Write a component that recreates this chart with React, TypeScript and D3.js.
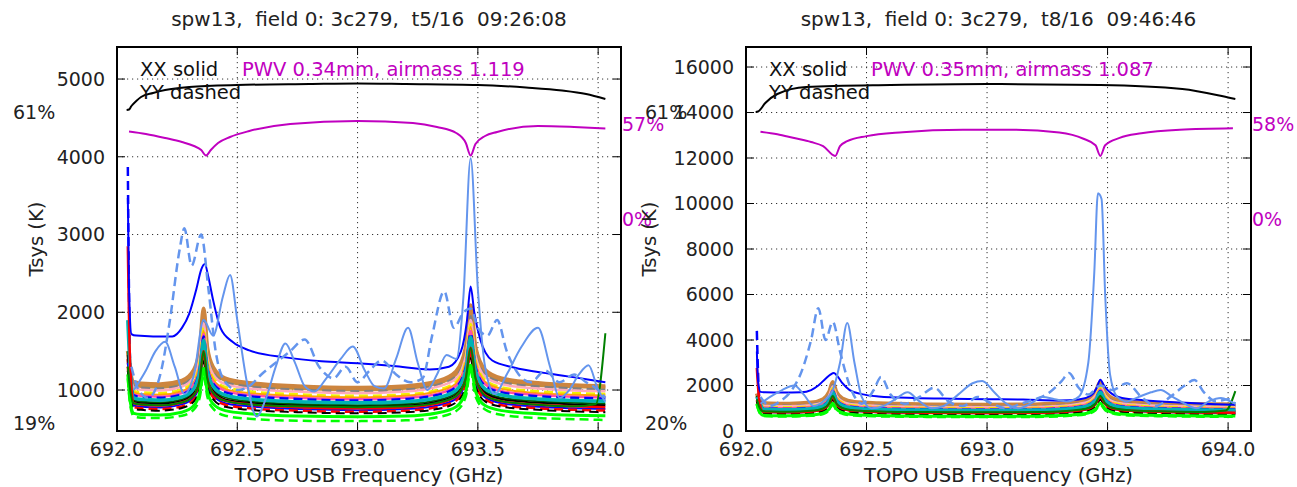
import React from 'react';
import * as d3 from 'd3';

// ---------- shared axes ----------
const X_DOMAIN: [number, number] = [692.0, 694.095];
const X_TICKS = [692.0, 692.5, 693.0, 693.5, 694.0];
const L_Y_DOMAIN: [number, number] = [473, 5412];
const L_Y_TICKS = [1000, 2000, 3000, 4000, 5000];
const R_Y_DOMAIN: [number, number] = [0, 16880];
const R_Y_TICKS = [0, 2000, 4000, 6000, 8000, 10000, 12000, 14000, 16000];

const L_TITLE = 'spw13,  field 0: 3c279,  t5/16  09:26:08';
const R_TITLE = 'spw13,  field 0: 3c279,  t8/16  09:46:46';
const L_PWV = 'PWV 0.34mm, airmass 1.119';
const R_PWV = 'PWV 0.35mm, airmass 1.087';

// ---------- atmosphere (percent) ----------
const L_TRANS_F = [692.04, 692.05, 692.06, 692.08, 692.1, 692.15, 692.2, 692.3, 692.5, 692.8, 693.0, 693.2, 693.5, 693.7, 693.85, 693.95, 694.03];
const L_TRANS_V = [61.34, 61.41, 61.88, 62.56, 63.1, 63.64, 64.04, 64.45, 64.72, 64.85, 64.92, 64.85, 64.72, 64.38, 63.98, 63.5, 62.83];
const L_TRANS_LABELS = [19, 61];
const R_TRANS_F = [692.04, 692.05, 692.08, 692.13, 692.25, 692.6, 693.0, 693.47, 693.81, 694.01, 694.03];
const R_TRANS_V = [61.07, 61.13, 62.25, 63.44, 64.37, 64.63, 64.76, 64.63, 64.1, 62.91, 62.78];
const R_TRANS_LABELS = [20, 61];

const L_IMG_F = [692.05, 692.12, 692.2, 692.27, 692.32, 692.35, 692.37, 692.39, 692.42, 692.47, 692.55, 692.72, 693.0, 693.23, 693.33, 693.41, 693.45, 693.47, 693.49, 693.53, 693.58, 693.75, 693.9, 694.03];
const L_IMG_V = [52.5, 51, 48.6, 46.2, 43.8, 41.4, 38.1, 41.4, 45.6, 49.2, 52.8, 57, 58.8, 57.6, 55.2, 51.6, 45.6, 38.1, 45, 49.8, 52.2, 55.8, 55.2, 54.3];
const L_IMG_LABELS = [0, 57];
const R_IMG_F = [692.06, 692.13, 692.2, 692.27, 692.32, 692.37, 692.39, 692.42, 692.5, 692.65, 692.9, 693.1, 693.3, 693.4, 693.45, 693.47, 693.49, 693.55, 693.64, 693.8, 694.02];
const R_IMG_V = [53.3, 51.8, 49.4, 47, 44.5, 38.5, 44.5, 47.5, 50.6, 53, 54.5, 54.5, 52.8, 49, 45, 38.5, 45, 49.5, 52.3, 54.5, 55.4];
const R_IMG_LABELS = [0, 58];

// ---------- Tsys bundle (shared frequency grid) ----------
const G_FREQ = [692.045, 692.055, 692.07, 692.1, 692.18, 692.27, 692.32, 692.345, 692.36, 692.375, 692.4, 692.45, 692.55, 692.75, 693.0, 693.2, 693.33, 693.41, 693.45, 693.47, 693.49, 693.53, 693.6, 693.75, 693.9, 694.03];
const RISER_FREQ = [692.045, 692.055, 692.07, 692.1, 692.18, 692.27, 692.32, 692.345, 692.36, 692.375, 692.4, 692.45, 692.55, 692.75, 693.0, 693.2, 693.33, 693.41, 693.45, 693.47, 693.49, 693.53, 693.6, 693.75, 693.9, 693.99, 694.03];

// left panel
const L_BROWN_A = [1500, 1240, 1100, 1085, 1075, 1120, 1260, 1550, 2050, 1550, 1290, 1150, 1090, 1050, 1030, 1050, 1110, 1240, 1550, 2090, 1550, 1260, 1150, 1090, 1060, 1050];
const L_BROWN_B = [1400, 1200, 1070, 1050, 1040, 1090, 1220, 1500, 1980, 1510, 1255, 1125, 1065, 1025, 1005, 1025, 1085, 1205, 1505, 2030, 1510, 1225, 1125, 1065, 1045, 1035];
const L_GRAY_D = [1300, 1180, 1050, 1030, 1020, 1070, 1200, 1470, 1900, 1470, 1230, 1100, 1045, 1005, 985, 1005, 1065, 1180, 1470, 1950, 1480, 1200, 1100, 1045, 1020, 1000];
const L_PINK = [1250, 1150, 1030, 1005, 995, 1045, 1170, 1440, 1860, 1440, 1200, 1075, 1020, 980, 960, 980, 1040, 1150, 1440, 1900, 1440, 1170, 1075, 1020, 995, 985];
const L_YELLOW_D = [1200, 1110, 990, 970, 960, 1010, 1130, 1390, 1800, 1390, 1160, 1040, 985, 945, 925, 945, 1000, 1110, 1390, 1850, 1390, 1130, 1035, 985, 960, 950];
const L_ORANGE = [1150, 1080, 970, 950, 940, 985, 1105, 1360, 1760, 1360, 1130, 1015, 960, 925, 905, 925, 980, 1085, 1360, 1810, 1360, 1105, 1015, 960, 940, 930];
const L_HOTPINK = [1400, 1050, 945, 925, 915, 960, 1075, 1320, 1720, 1320, 1100, 990, 935, 900, 880, 900, 950, 1055, 1320, 1760, 1320, 1075, 985, 935, 915, 905];
const L_BLUE_D = [3870, 1300, 930, 910, 900, 945, 1055, 1300, 1690, 1300, 1080, 970, 920, 885, 865, 885, 935, 1040, 1300, 1730, 1300, 1055, 970, 920, 900, 890];
const L_CYAN = [1900, 1250, 900, 880, 870, 910, 1020, 1260, 1640, 1260, 1045, 935, 885, 850, 835, 850, 900, 1000, 1250, 1680, 1250, 1015, 935, 885, 865, 855];
const L_DKGREEN = [1500, 1100, 870, 850, 840, 880, 985, 1210, 1580, 1215, 1010, 905, 855, 820, 805, 820, 870, 965, 1210, 1620, 1210, 980, 900, 855, 835, 825];
const L_BLACK = [1450, 1050, 850, 830, 820, 860, 960, 1180, 1540, 1185, 985, 880, 835, 800, 785, 800, 850, 940, 1180, 1580, 1180, 960, 880, 835, 815, 805];
const L_RED = [2850, 1300, 830, 810, 800, 840, 935, 1150, 1500, 1155, 960, 860, 815, 780, 765, 780, 825, 920, 1150, 1540, 1150, 935, 855, 810, 790, 780];
const L_BLUE = [1350, 1000, 800, 785, 775, 815, 905, 1110, 1450, 1115, 930, 830, 790, 755, 740, 755, 800, 890, 1110, 1490, 1110, 905, 830, 785, 765, 755];
const L_RED_D = [1300, 950, 780, 765, 755, 790, 880, 1080, 1410, 1085, 905, 810, 765, 735, 720, 735, 780, 865, 1080, 1450, 1080, 880, 805, 765, 745, 735];
const L_BLACK_D = [1250, 920, 760, 745, 735, 770, 855, 1050, 1370, 1055, 880, 785, 745, 715, 700, 715, 755, 840, 1050, 1410, 1050, 855, 785, 745, 725, 715];
const L_LIME = [1200, 850, 700, 685, 680, 715, 800, 985, 1280, 985, 820, 735, 695, 665, 655, 665, 705, 785, 985, 1320, 985, 800, 735, 695, 675, 670];
const L_LIME_D = [1150, 800, 660, 645, 640, 670, 750, 920, 1200, 920, 760, 670, 630, 605, 600, 610, 650, 730, 920, 1240, 920, 750, 680, 640, 625, 615];
const L_RISER = [1300, 1000, 830, 815, 805, 840, 935, 1150, 1500, 1150, 960, 860, 815, 790, 780, 790, 835, 925, 1150, 1540, 1150, 930, 855, 810, 790, 820, 1730];

const L_HIGH_F = [692.045, 692.05, 692.06, 692.08, 692.15, 692.23, 692.27, 692.3, 692.33, 692.35, 692.365, 692.38, 692.4, 692.43, 692.48, 692.55, 692.7, 692.85, 693.0, 693.15, 693.3, 693.38, 693.43, 693.455, 693.47, 693.485, 693.51, 693.56, 693.65, 693.8, 693.95, 694.03];
const L_HIGH_V = [3470, 2300, 1720, 1700, 1690, 1690, 1800, 1980, 2300, 2550, 2620, 2450, 2150, 1800, 1620, 1510, 1420, 1370, 1345, 1310, 1265, 1300, 1500, 1900, 2330, 2000, 1650, 1380, 1290, 1210, 1140, 1100];

const L_CORN_F = [692.07, 692.12, 692.16, 692.2, 692.24, 692.28, 692.32, 692.36, 692.4, 692.44, 692.47, 692.5, 692.54, 692.58, 692.62, 692.66, 692.7, 692.74, 692.78, 692.82, 692.87, 692.93, 692.98, 693.03, 693.07, 693.11, 693.16, 693.21, 693.25, 693.29, 693.33, 693.37, 693.41, 693.44, 693.47, 693.5, 693.53, 693.57, 693.62, 693.68, 693.75, 693.8, 693.84, 693.88, 693.92, 693.96, 694.0, 694.03];
const L_CORN_V = [1000, 1250, 1500, 1620, 1300, 950, 1200, 1900, 1700, 2200, 2480, 1900, 1100, 660, 900, 1300, 1600, 1350, 1050, 980, 1150, 1400, 1560, 1250, 1050, 1020, 1400, 1800, 1350, 1000, 1200, 1450, 1400, 2200, 3980, 2300, 1300, 950, 1200, 1550, 1800, 1300, 900, 1000, 1200, 1320, 1000, 850];
const L_CORN_D_F = [692.06, 692.09, 692.13, 692.18, 692.22, 692.26, 692.28, 692.31, 692.35, 692.38, 692.41, 692.45, 692.5, 692.55, 692.6, 692.66, 692.72, 692.78, 692.84, 692.9, 692.95, 693.0, 693.05, 693.1, 693.16, 693.22, 693.27, 693.31, 693.36, 693.4, 693.44, 693.47, 693.5, 693.54, 693.58, 693.62, 693.67, 693.72, 693.78, 693.84, 693.9, 693.95, 694.0, 694.03];
const L_CORN_D_V = [1300, 1000, 900, 1200, 1900, 2800, 3080, 2600, 3000, 2300, 1500, 1100, 1000, 1050, 1200, 1350, 1500, 1650, 1300, 1150, 1300, 1100, 1250, 1380, 1200, 1100, 1150, 1700, 2270, 1800, 2000, 2050, 1800, 1700, 1900, 1500, 1200, 1100, 1250, 1100, 1200, 1100, 1000, 900];

// right panel
const R_BROWN_A = [1650, 1380, 1230, 1210, 1200, 1250, 1400, 1720, 2150, 1720, 1430, 1280, 1220, 1170, 1150, 1170, 1240, 1380, 1720, 2150, 1720, 1400, 1280, 1210, 1180, 1170];
const R_BROWN_B = [1550, 1320, 1180, 1160, 1150, 1200, 1340, 1650, 2080, 1650, 1370, 1230, 1165, 1120, 1100, 1120, 1185, 1320, 1650, 2080, 1650, 1340, 1230, 1160, 1130, 1120];
const R_GRAY_D = [1400, 1280, 1150, 1125, 1115, 1165, 1300, 1600, 2020, 1600, 1330, 1195, 1135, 1090, 1070, 1090, 1155, 1285, 1600, 2020, 1600, 1300, 1195, 1130, 1100, 1090];
const R_PINK = [1350, 1250, 1115, 1095, 1085, 1135, 1265, 1560, 1960, 1560, 1295, 1160, 1100, 1060, 1040, 1060, 1120, 1250, 1560, 1960, 1560, 1265, 1160, 1100, 1070, 1060];
const R_YELLOW_D = [1300, 1200, 1075, 1050, 1040, 1090, 1220, 1500, 1890, 1500, 1250, 1120, 1060, 1020, 1000, 1020, 1080, 1200, 1500, 1890, 1500, 1220, 1120, 1060, 1030, 1020];
const R_ORANGE = [1250, 1170, 1045, 1025, 1015, 1065, 1190, 1460, 1840, 1460, 1215, 1090, 1030, 995, 975, 995, 1055, 1170, 1460, 1840, 1460, 1190, 1090, 1030, 1005, 995];
const R_HOTPINK = [1500, 1140, 1020, 1000, 990, 1035, 1160, 1420, 1800, 1420, 1185, 1065, 1005, 970, 950, 970, 1025, 1140, 1420, 1800, 1420, 1160, 1065, 1005, 980, 970];
const R_BLUE_D = [4400, 1500, 1000, 980, 970, 1015, 1135, 1390, 1760, 1390, 1160, 1040, 985, 950, 930, 950, 1005, 1115, 1390, 1760, 1390, 1135, 1040, 985, 960, 950];
const R_CYAN = [1500, 1300, 965, 945, 935, 980, 1095, 1345, 1700, 1345, 1120, 1005, 950, 920, 900, 920, 970, 1080, 1345, 1700, 1345, 1095, 1005, 950, 925, 915];
const R_DKGREEN = [1550, 1150, 925, 905, 895, 935, 1050, 1290, 1630, 1290, 1070, 960, 910, 875, 860, 875, 930, 1030, 1290, 1630, 1290, 1050, 960, 910, 885, 875];
const R_BLACK = [1500, 1100, 890, 870, 860, 905, 1015, 1245, 1570, 1245, 1035, 930, 880, 845, 830, 845, 895, 995, 1245, 1570, 1245, 1015, 930, 880, 855, 845];
const R_RED = [2770, 1350, 850, 830, 820, 860, 965, 1185, 1500, 1185, 985, 885, 835, 805, 790, 805, 850, 950, 1185, 1500, 1185, 965, 885, 835, 815, 805];
const R_BLUE = [1400, 1050, 840, 820, 810, 850, 950, 1170, 1480, 1170, 975, 875, 825, 795, 780, 795, 840, 935, 1170, 1480, 1170, 950, 875, 825, 800, 795];
const R_RED_D = [1350, 1000, 810, 790, 780, 820, 915, 1125, 1420, 1125, 940, 840, 795, 765, 750, 765, 810, 900, 1125, 1420, 1125, 915, 840, 795, 770, 765];
const R_BLACK_D = [1300, 960, 775, 760, 750, 785, 880, 1080, 1370, 1080, 900, 805, 765, 735, 720, 735, 775, 865, 1080, 1370, 1080, 880, 805, 765, 740, 735];
const R_LIME = [1200, 870, 690, 675, 665, 700, 785, 960, 1220, 960, 800, 715, 680, 650, 640, 650, 690, 770, 960, 1220, 960, 785, 715, 680, 660, 655];
const R_LIME_D = [1150, 830, 660, 645, 635, 670, 750, 915, 1160, 915, 760, 680, 645, 620, 610, 620, 660, 735, 915, 1160, 915, 750, 680, 645, 630, 625];
const R_RISER = [1400, 1050, 870, 855, 845, 885, 990, 1210, 1540, 1210, 1010, 905, 860, 830, 820, 830, 880, 975, 1210, 1540, 1210, 990, 905, 860, 840, 900, 1750];

const R_HIGH_V = [3500, 2200, 1720, 1700, 1690, 1700, 1800, 2000, 2300, 2480, 2550, 2400, 2100, 1800, 1620, 1520, 1450, 1420, 1400, 1380, 1340, 1380, 1550, 1900, 2250, 2000, 1700, 1450, 1350, 1250, 1180, 1150];

const R_CORN_F = [692.06, 692.1, 692.15, 692.2, 692.24, 692.28, 692.32, 692.36, 692.39, 692.42, 692.45, 692.48, 692.52, 692.57, 692.62, 692.67, 692.72, 692.77, 692.82, 692.88, 692.94, 692.98, 693.03, 693.08, 693.13, 693.18, 693.23, 693.28, 693.33, 693.38, 693.42, 693.445, 693.46, 693.475, 693.49, 693.51, 693.54, 693.58, 693.63, 693.68, 693.72, 693.77, 693.82, 693.87, 693.92, 693.97, 694.01, 694.03];
const R_CORN_V = [1200, 1500, 1800, 2000, 1600, 1100, 1300, 1800, 3000, 4750, 3000, 1500, 1000, 1100, 1400, 1700, 1300, 1000, 1100, 1600, 2100, 2200, 1700, 1200, 1000, 1200, 1500, 1400, 1300, 1500, 3000, 7000, 10450, 10200, 6000, 2500, 1500, 1300, 1500, 1700, 1800, 1500, 1200, 1000, 1300, 1450, 1300, 1200];
const R_CORN_D_F = [692.06, 692.1, 692.14, 692.19, 692.23, 692.27, 692.3, 692.33, 692.36, 692.39, 692.43, 692.48, 692.53, 692.56, 692.6, 692.66, 692.72, 692.78, 692.84, 692.9, 692.96, 693.02, 693.08, 693.14, 693.2, 693.26, 693.31, 693.34, 693.38, 693.42, 693.47, 693.52, 693.58, 693.64, 693.7, 693.76, 693.82, 693.86, 693.9, 693.95, 694.0, 694.03];
const R_CORN_D_V = [1500, 1100, 1300, 1800, 2600, 4000, 5400, 4000, 4800, 3500, 2000, 1200, 1800, 2370, 1600, 1200, 1500, 1900, 1300, 1100, 1500, 1200, 1000, 1200, 1400, 1700, 2200, 2550, 1900, 1600, 2000, 1800, 2100, 1500, 1100, 1500, 2000, 2240, 1700, 1300, 1400, 1200];

// ---------- series styles ----------
type Series = { f: number[]; v: number[]; color: string; width: number; dash?: string };
const DASH = '9,5';
const CORN = '#6495ed';

const LEFT_SERIES: Series[] = [
  { f: G_FREQ, v: L_BROWN_B, color: '#c58a3a', width: 3.5 },
  { f: G_FREQ, v: L_BROWN_A, color: '#cd853f', width: 4 },
  { f: G_FREQ, v: L_GRAY_D, color: '#808080', width: 2.5, dash: DASH },
  { f: G_FREQ, v: L_PINK, color: '#ffaabb', width: 2.5 },
  { f: G_FREQ, v: L_YELLOW_D, color: '#f0f000', width: 2.5, dash: DASH },
  { f: G_FREQ, v: L_ORANGE, color: '#ffa500', width: 2 },
  { f: G_FREQ, v: L_HOTPINK, color: '#ff4da6', width: 2.5 },
  { f: G_FREQ, v: L_BLUE_D, color: '#0000ff', width: 2.5, dash: DASH },
  { f: G_FREQ, v: L_DKGREEN, color: '#006400', width: 2 },
  { f: G_FREQ, v: L_BLACK, color: '#000000', width: 2 },
  { f: G_FREQ, v: L_BLUE, color: '#0000ff', width: 2 },
  { f: G_FREQ, v: L_RED_D, color: '#ff0000', width: 2.5, dash: DASH },
  { f: G_FREQ, v: L_BLACK_D, color: '#000000', width: 2, dash: DASH },
  { f: G_FREQ, v: L_CYAN, color: '#00b3b3', width: 3.5 },
  { f: G_FREQ, v: L_RED, color: '#ff0000', width: 2.5 },
  { f: G_FREQ, v: L_LIME_D, color: '#00ff00', width: 2.5, dash: DASH },
  { f: G_FREQ, v: L_LIME, color: '#00ff00', width: 3 },
  { f: RISER_FREQ, v: L_RISER, color: '#008000', width: 2 },
  { f: L_HIGH_F, v: L_HIGH_V, color: '#0000ff', width: 2 },
  { f: L_CORN_D_F, v: L_CORN_D_V, color: CORN, width: 2.5, dash: DASH },
  { f: L_CORN_F, v: L_CORN_V, color: CORN, width: 2 },
];

const RIGHT_SERIES: Series[] = [
  { f: G_FREQ, v: R_BROWN_B, color: '#c58a3a', width: 3.5 },
  { f: G_FREQ, v: R_BROWN_A, color: '#cd853f', width: 4 },
  { f: G_FREQ, v: R_GRAY_D, color: '#808080', width: 2.5, dash: DASH },
  { f: G_FREQ, v: R_PINK, color: '#ffaabb', width: 2.5 },
  { f: G_FREQ, v: R_YELLOW_D, color: '#f0f000', width: 2.5, dash: DASH },
  { f: G_FREQ, v: R_ORANGE, color: '#ffa500', width: 2 },
  { f: G_FREQ, v: R_HOTPINK, color: '#ff4da6', width: 2.5 },
  { f: G_FREQ, v: R_BLUE_D, color: '#0000ff', width: 2.5, dash: DASH },
  { f: G_FREQ, v: R_DKGREEN, color: '#006400', width: 2 },
  { f: G_FREQ, v: R_BLACK, color: '#000000', width: 2 },
  { f: G_FREQ, v: R_BLUE, color: '#0000ff', width: 2 },
  { f: G_FREQ, v: R_RED_D, color: '#ff0000', width: 2.5, dash: DASH },
  { f: G_FREQ, v: R_BLACK_D, color: '#000000', width: 2, dash: DASH },
  { f: G_FREQ, v: R_CYAN, color: '#00b3b3', width: 3.5 },
  { f: G_FREQ, v: R_RED, color: '#ff0000', width: 2.5 },
  { f: G_FREQ, v: R_LIME_D, color: '#00ff00', width: 2.5, dash: DASH },
  { f: G_FREQ, v: R_LIME, color: '#00ff00', width: 3 },
  { f: RISER_FREQ, v: R_RISER, color: '#008000', width: 2 },
  { f: L_HIGH_F, v: R_HIGH_V, color: '#0000ff', width: 2 },
  { f: R_CORN_D_F, v: R_CORN_D_V, color: CORN, width: 2.5, dash: DASH },
  { f: R_CORN_F, v: R_CORN_V, color: CORN, width: 2 },
];

const FONT = "'DejaVu Sans', 'Bitstream Vera Sans', sans-serif";
const MAG = '#c000c0';

type PanelProps = {
  id: string;
  box: { left: number; right: number; top: number; bottom: number };
  yDomain: [number, number];
  yTicks: number[];
  title: string;
  pwv: string;
  series: Series[];
  transF: number[]; transV: number[]; transLabels: number[]; transPix: [number, number];
  imgF: number[]; imgV: number[]; imgLabels: number[]; imgPix: [number, number];
  pctLeftX: number;
  ylabelX: number;
};

function Panel(p: PanelProps) {
  const { left, right, top, bottom } = p.box;
  const x = d3.scaleLinear().domain(X_DOMAIN).range([left, right]);
  const y = d3.scaleLinear().domain(p.yDomain).range([bottom, top]);
  const tScale = d3.scaleLinear().domain(p.transLabels).range(p.transPix);
  const iScale = d3.scaleLinear().domain(p.imgLabels).range(p.imgPix);
  const mk = (ys: (v: number) => number) =>
    d3.line<[number, number]>().x(d => x(d[0])).y(d => ys(d[1])).curve(d3.curveMonotoneX);
  const dataLine = mk(y);
  const tLine = mk(tScale);
  const iLine = mk(iScale);
  const zip = (f: number[], v: number[]) => f.map((ff, i) => [ff, v[i]] as [number, number]);
  const tickLen = 8;
  const cx = (left + right) / 2;
  const cy = (top + bottom) / 2;
  return (
    <g>
      <defs>
        <clipPath id={p.id}>
          <rect x={left} y={top} width={right - left} height={bottom - top} />
        </clipPath>
      </defs>
      <rect x={left} y={top} width={right - left} height={bottom - top} fill="#fff" />
      {/* grid */}
      <g stroke="#000" strokeWidth={1} strokeDasharray="1.2,3.8" opacity={0.8}>
        {X_TICKS.map(t => (
          <line key={'gx' + t} x1={x(t)} x2={x(t)} y1={top} y2={bottom} />
        ))}
        {p.yTicks.map(t => (
          <line key={'gy' + t} x1={left} x2={right} y1={y(t)} y2={y(t)} />
        ))}
      </g>
      <g clipPath={`url(#${p.id})`} fill="none" strokeLinejoin="round">
        {p.series.map((s, i) => (
          <path key={i} d={dataLine(zip(s.f, s.v)) || ''} stroke={s.color} strokeWidth={s.width} strokeDasharray={s.dash} />
        ))}
        <path d={tLine(zip(p.transF, p.transV)) || ''} stroke="#000" strokeWidth={2} />
        <path d={iLine(zip(p.imgF, p.imgV)) || ''} stroke={MAG} strokeWidth={2} />
      </g>
      {/* ticks */}
      <g stroke="#000" strokeWidth={1}>
        {X_TICKS.map(t => (
          <g key={'tx' + t}>
            <line x1={x(t)} x2={x(t)} y1={bottom} y2={bottom - tickLen} />
            <line x1={x(t)} x2={x(t)} y1={top} y2={top + tickLen} />
          </g>
        ))}
        {p.yTicks.map(t => (
          <g key={'ty' + t}>
            <line x1={left} x2={left + tickLen} y1={y(t)} y2={y(t)} />
            <line x1={right} x2={right - tickLen} y1={y(t)} y2={y(t)} />
          </g>
        ))}
      </g>
      <rect x={left} y={top} width={right - left} height={bottom - top} fill="none" stroke="#000" strokeWidth={2} />
      {/* tick labels */}
      <g fontFamily={FONT} fontSize={19} fill="#222">
        {X_TICKS.map(t => (
          <text key={'lx' + t} x={x(t)} y={456} textAnchor="middle">{d3.format('.1f')(t)}</text>
        ))}
        {p.yTicks.map(t => (
          <text key={'ly' + t} x={left - 12} y={y(t)} dy="0.36em" textAnchor="end">{String(t)}</text>
        ))}
      </g>
      <text x={cx} y={482} textAnchor="middle" fontFamily={FONT} fontSize={19.5} fill="#222">TOPO USB Frequency (GHz)</text>
      <text transform={`translate(${p.ylabelX},${cy}) rotate(-90)`} textAnchor="middle" dy="0.36em" fontFamily={FONT} fontSize={19.5} fill="#222">Tsys (K)</text>
      <text x={cx} y={26} textAnchor="middle" fontFamily={FONT} fontSize={20} fill="#222" xmlSpace="preserve" style={{ whiteSpace: 'pre' }}>{p.title}</text>
      {/* legend texts */}
      <g fontFamily={FONT} fontSize={19.5}>
        <text x={left + 23} y={76} fill="#111">XX solid</text>
        <text x={left + 23} y={99} fill="#111">YY dashed</text>
        <text x={left + 125} y={76} fill={MAG}>{p.pwv}</text>
      </g>
      {/* percentage labels */}
      <g fontFamily={FONT} fontSize={19}>
        {p.transLabels.map(v => (
          <text key={'tl' + v} x={p.pctLeftX} y={tScale(v)} dy="0.36em" fill="#222">{v + '%'}</text>
        ))}
        {p.imgLabels.map(v => (
          <text key={'il' + v} x={right + 1} y={iScale(v)} dy="0.36em" fill={MAG}>{v + '%'}</text>
        ))}
      </g>
    </g>
  );
}

export default function App() {
  return (
    <svg width={1297} height={487} style={{ position: 'absolute', left: 0, top: 0, background: '#fff' }}>
      <rect x={0} y={0} width={1297} height={487} fill="#fff" />
      <Panel
        id="clipL"
        box={{ left: 117, right: 621, top: 47, bottom: 431 }}
        yDomain={L_Y_DOMAIN}
        yTicks={L_Y_TICKS}
        title={L_TITLE}
        pwv={L_PWV}
        series={LEFT_SERIES}
        transF={L_TRANS_F} transV={L_TRANS_V} transLabels={L_TRANS_LABELS} transPix={[423, 112.5]}
        imgF={L_IMG_F} imgV={L_IMG_V} imgLabels={L_IMG_LABELS} imgPix={[219, 124]}
        pctLeftX={13}
        ylabelX={36}
      />
      <Panel
        id="clipR"
        box={{ left: 746, right: 1251, top: 47, bottom: 431 }}
        yDomain={R_Y_DOMAIN}
        yTicks={R_Y_TICKS}
        title={R_TITLE}
        pwv={R_PWV}
        series={RIGHT_SERIES}
        transF={R_TRANS_F} transV={R_TRANS_V} transLabels={R_TRANS_LABELS} transPix={[423, 112.5]}
        imgF={R_IMG_F} imgV={R_IMG_V} imgLabels={R_IMG_LABELS} imgPix={[219, 124]}
        pctLeftX={645}
        ylabelX={649}
      />
    </svg>
  );
}
